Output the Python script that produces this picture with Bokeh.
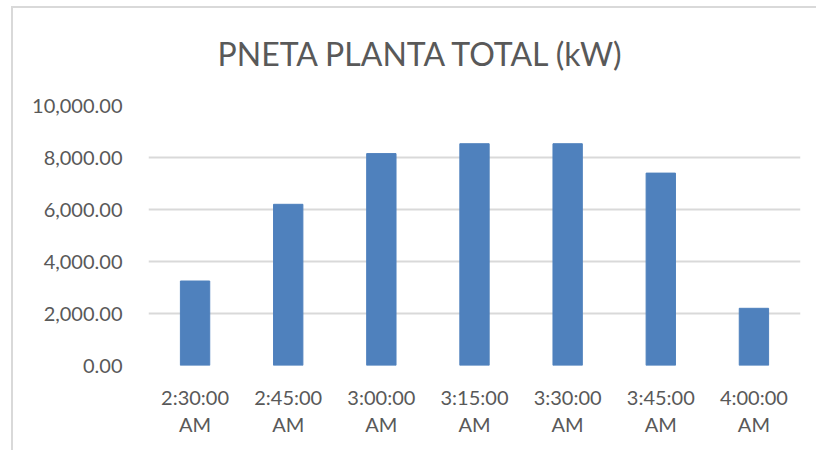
from bokeh.plotting import figure
from bokeh.models import FactorRange, Range1d, FixedTicker, NumeralTickFormatter, ColumnDataSource, Title, InlineStyleSheet
from bokeh.embed import file_html
from bokeh.resources import INLINE

# ---- data ----
times = ["2:30:00 AM", "2:45:00 AM", "3:00:00 AM", "3:15:00 AM", "3:30:00 AM", "3:45:00 AM", "4:00:00 AM"]
pneta_kw = [3250, 6200, 8150, 8530, 8530, 7400, 2200]
y_ticks = [0, 2000, 4000, 6000, 8000, 10000]
title_text = "PNETA PLANTA TOTAL (kW)"

labels = [t.replace(" ", "\n") for t in times]
src = ColumnDataSource(dict(x=labels, y=pneta_kw))

FONT = "Lato"
TXT = "#595959"

p = figure(
    width=816, height=450,
    x_range=FactorRange(factors=labels, range_padding=0),
    y_range=Range1d(0, 10000),
    output_backend="svg", toolbar_location=None,
    min_border_left=148, min_border_right=16, min_border_top=105, min_border_bottom=85,
)

p.vbar(x="x", top="y", width=0.315, source=src, fill_color="#4F81BD", line_color="#4F81BD")

t = Title(text=title_text, align="left", offset=69, standoff=62, text_font=FONT,
          text_font_size="32px", text_font_style="normal", text_color=TXT, vertical_align="top")
p.add_layout(t, "above")

# light chart-area border (left and top edges, as in the reference)
p.stylesheets = [InlineStyleSheet(css="""
:host::before {
  content: "";
  position: absolute;
  z-index: 10;
  left: 11px; top: 6px; width: 805px; height: 0px;
  border-top: 2px solid #d9d9d9;
  pointer-events: none;
}
:host::after {
  content: "";
  position: absolute;
  z-index: 10;
  left: 11px; top: 6px; width: 0px; height: 444px;
  border-left: 2px solid #d9d9d9;
  pointer-events: none;
}
""")]

p.outline_line_color = None
p.background_fill_color = "white"
p.border_fill_color = "white"

p.xgrid.grid_line_color = None
p.ygrid.grid_line_color = "#d9d9d9"
p.ygrid.grid_line_width = 2
p.ygrid.ticker = FixedTicker(ticks=y_ticks)

p.yaxis.ticker = FixedTicker(ticks=y_ticks)
p.yaxis.formatter = NumeralTickFormatter(format="0,0.00")
p.yaxis.axis_line_color = None
p.yaxis.major_tick_line_color = None
p.yaxis.minor_tick_line_color = None
p.yaxis.major_tick_out = 0
p.yaxis.major_label_standoff = 26
p.yaxis.major_label_text_font = FONT
p.yaxis.major_label_text_font_size = "20px"
p.yaxis.major_label_text_color = TXT

p.xaxis.axis_line_color = None
p.xaxis.major_tick_line_color = None
p.xaxis.major_tick_out = 0
p.xaxis.major_label_standoff = 19
p.xaxis.major_label_text_font = FONT
p.xaxis.major_label_text_font_size = "20px"
p.xaxis.major_label_text_color = TXT
p.xaxis.major_label_text_line_height = 1.15

open("out.html", "w").write(file_html(p, INLINE))
